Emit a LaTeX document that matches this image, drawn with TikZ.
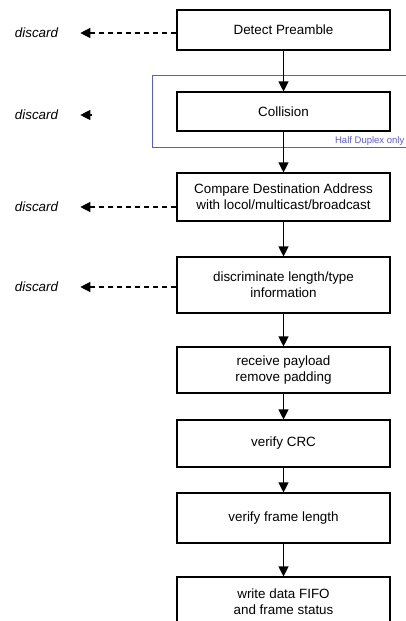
\documentclass[tikz,border=0pt]{standalone}
\usepackage{fontspec}
\setmainfont{Liberation Sans}
\usetikzlibrary{arrows.meta}
\definecolor{duplexblue}{RGB}{90,90,220}

\begin{document}
\begin{tikzpicture}[x=1pt, y=-1pt,
    box/.style={draw, line width=1.1pt, minimum width=213pt, align=center,
        font=\fontsize{13.4}{16.3}\selectfont},
    discard/.style={font=\fontsize{13.4}{16}\selectfont\itshape, inner sep=0pt},
    flow/.style={line width=1.1pt, -{Triangle[width=10pt,length=10pt]}},
    reject/.style={line width=1.1pt, dash pattern=on 5pt off 4pt,
        -{Triangle[width=10pt,length=10pt]}, shorten >=22pt},
    stub/.style={line width=1.1pt, -{Triangle[width=10pt,length=10pt]}, shorten >=22pt}]
                \useasboundingbox (0,0) rectangle (406,621);
                \clip (0,0) rectangle (406,621);
                \node[box, minimum height=40pt] (detect) at (283.5,30) {Detect Preamble};
                \node[box, minimum height=39pt] (collision) at (283.5,111.5) {Collision};
                \node[box, minimum height=48pt] (compare) at (283.5,197) {Compare Destination Address\\with locol/multicast/broadcast};
                \node[box, minimum height=56pt] (lentype) at (283.5,285) {discriminate length/type\\information};
                \node[box, minimum height=46pt] (payload) at (283.5,370) {receive payload\\remove padding};
                \node[box, minimum height=47pt] (crc) at (283.5,443.5) {verify CRC};
                \node[box, minimum height=50pt] (framelen) at (283.5,518) {verify frame length};
                \node[box, minimum height=50pt] (fifo) at (283.5,602) {write data FIFO\\and frame status};
                \draw[duplexblue, line width=0.9pt] (409,75) -- (152,75) -- (152,147) -- (409,147);
                \node[duplexblue, anchor=south east, inner sep=0pt,
                    font=\fontsize{9.5}{11}\selectfont] (halfdup) at (404.5,146) {Half Duplex only};
                \node[discard] (d1) at (36.5,33) {discard};
                \node[discard] (d2) at (36.5,115) {discard};
                \node[discard] (d3) at (36.5,207) {discard};
                \node[discard] (d4) at (36.5,287) {discard};
                \coordinate (c2) at (92,115);
                \draw[flow] (detect) -- (collision);
                \draw[flow] (collision) -- (compare);
                \draw[flow] (compare) -- (lentype);
                \draw[flow] (lentype) -- (payload);
                \draw[flow] (payload) -- (crc);
                \draw[flow] (crc) -- (framelen);
                \draw[flow] (framelen) -- (fifo);
                \draw[reject] (d1.east -| detect.west) -- (d1.east);
                \draw[stub] (c2) -- (d2.east);
                \draw[reject] (d3.east -| compare.west) -- (d3.east);
                \draw[reject] (d4.east -| lentype.west) -- (d4.east);
            \end{tikzpicture}
\end{document}
